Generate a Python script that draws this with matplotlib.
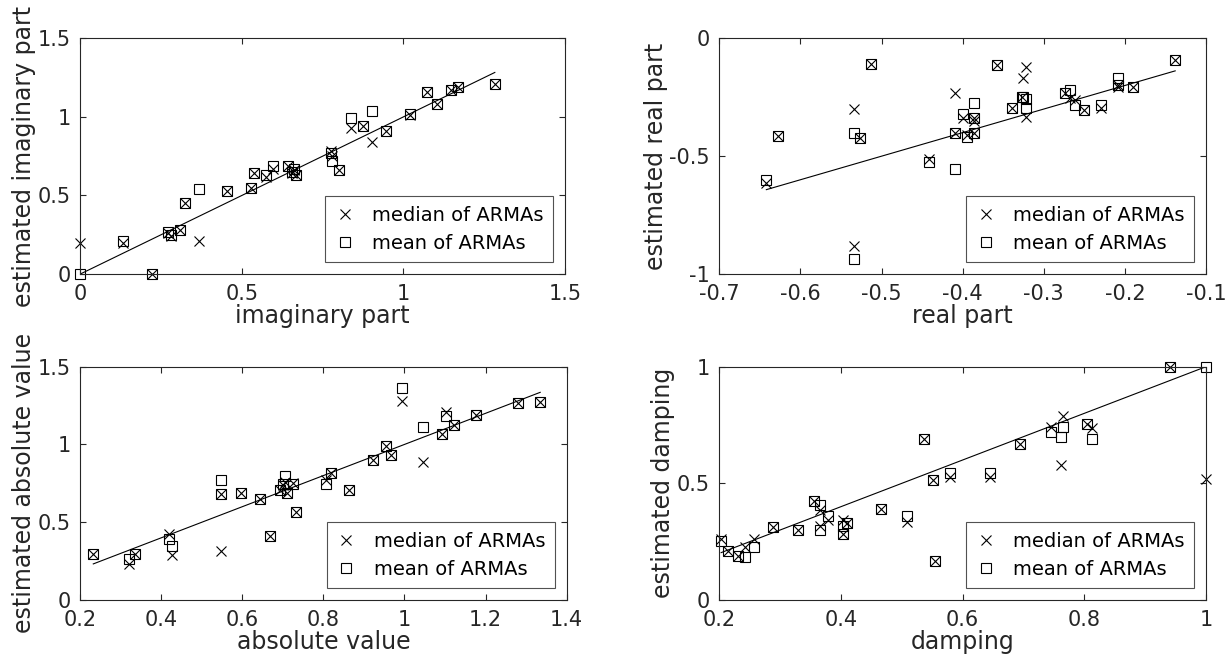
import matplotlib
matplotlib.use('Agg')
import matplotlib.pyplot as plt
from matplotlib.ticker import FuncFormatter

# True pole values and the estimates from the ARMA fits
imag_true = [0.0, 0.133, 0.223, 0.27, 0.28, 0.307, 0.325, 0.366, 0.455, 0.528, 0.537, 0.576, 0.595, 0.642,
             0.655, 0.66, 0.667, 0.775, 0.78, 0.80, 0.839, 0.875, 0.903, 0.947, 1.019, 1.073, 1.104, 1.148,
             1.17, 1.283]
imag_median = [0.195, 0.195, 0.0, 0.26, 0.24, 0.28, 0.45, 0.21, 0.53, 0.55, 0.64, 0.62, 0.67, 0.69,
               0.64, 0.66, 0.63, 0.78, 0.75, 0.66, 0.93, 0.94, 0.84, 0.91, 1.01, 1.16, 1.08, 1.17,
               1.19, 1.21]
imag_mean = [0.0, 0.212, 0.0, 0.27, 0.25, 0.28, 0.45, 0.54, 0.53, 0.55, 0.64, 0.63, 0.69, 0.69,
             0.65, 0.67, 0.63, 0.77, 0.72, 0.66, 0.99, 0.94, 1.04, 0.91, 1.02, 1.16, 1.08, 1.17,
             1.19, 1.21]

real_true = [-0.642, -0.628, -0.534, -0.527, -0.513, -0.534, -0.442, -0.41, -0.41, -0.40, -0.395, -0.386,
             -0.386, -0.386, -0.358, -0.339, -0.326, -0.322, -0.327, -0.322, -0.274, -0.268, -0.262, -0.25,
             -0.229, -0.209, -0.209, -0.19, -0.138]
real_median = [-0.612, -0.415, -0.30, -0.423, -0.11, -0.881, -0.514, -0.234, -0.40, -0.34, -0.41, -0.34,
               -0.40, -0.35, -0.113, -0.297, -0.17, -0.12, -0.248, -0.333, -0.234, -0.255, -0.262, -0.304,
               -0.297, -0.198, -0.205, -0.205, -0.092]
real_mean = [-0.601, -0.415, -0.403, -0.423, -0.11, -0.938, -0.524, -0.553, -0.40, -0.323, -0.417, -0.34,
             -0.40, -0.276, -0.113, -0.297, -0.248, -0.259, -0.25, -0.297, -0.234, -0.219, -0.283, -0.304,
             -0.284, -0.198, -0.17, -0.205, -0.092]

abs_true = [0.232, 0.32, 0.335, 0.42, 0.426, 0.547, 0.547, 0.596, 0.644, 0.667, 0.693, 0.705, 0.70, 0.71,
            0.726, 0.733, 0.806, 0.818, 0.862, 0.922, 0.955, 0.966, 0.994, 1.045, 1.092, 1.102, 1.123,
            1.176, 1.279, 1.335]
abs_median = [0.295, 0.231, 0.295, 0.423, 0.288, 0.684, 0.316, 0.686, 0.652, 0.412, 0.71, 0.76, 0.74, 0.69,
              0.75, 0.566, 0.77, 0.816, 0.705, 0.90, 0.987, 0.929, 1.278, 0.887, 1.064, 1.207, 1.122,
              1.19, 1.265, 1.276]
abs_mean = [0.295, 0.261, 0.295, 0.395, 0.346, 0.684, 0.769, 0.686, 0.652, 0.412, 0.71, 0.80, 0.744, 0.688,
            0.748, 0.566, 0.748, 0.816, 0.705, 0.90, 0.987, 0.929, 1.361, 1.111, 1.064, 1.18, 1.122,
            1.19, 1.265, 1.276]

damp_true = [0.203, 0.215, 0.231, 0.242, 0.257, 0.289, 0.33, 0.356, 0.365, 0.365, 0.379, 0.403, 0.404, 0.41,
             0.466, 0.508, 0.536, 0.552, 0.555, 0.58, 0.645, 0.694, 0.745, 0.761, 0.765, 0.804, 0.812,
             0.94, 1.0]
damp_median = [0.262, 0.209, 0.19, 0.229, 0.262, 0.312, 0.302, 0.424, 0.384, 0.319, 0.344, 0.281, 0.341, 0.331,
               0.391, 0.334, 0.688, 0.516, 0.169, 0.527, 0.527, 0.67, 0.742, 0.577, 0.788, 0.756, 0.739,
               1.0, 0.52]
damp_mean = [0.252, 0.209, 0.19, 0.183, 0.229, 0.312, 0.302, 0.424, 0.405, 0.30, 0.362, 0.281, 0.319, 0.331,
             0.391, 0.358, 0.688, 0.516, 0.169, 0.544, 0.544, 0.67, 0.72, 0.699, 0.742, 0.756, 0.688,
             1.0, 1.0]

text_color = '#262626'
plt.rcParams['font.family'] = 'DejaVu Sans'
plt.rcParams['axes.unicode_minus'] = False


def draw_panel(ax, true_vals, median_vals, mean_vals, xlim, ylim, xticks, yticks, xlabel, ylabel):
    ax.plot(true_vals, median_vals, 'x', color='black', markersize=6.5, markeredgewidth=0.8,
            label='median of ARMAs', clip_on=False)
    ax.plot(true_vals, mean_vals, 's', color='black', markerfacecolor='none', markersize=6.5,
            markeredgewidth=0.8, label='mean of ARMAs', clip_on=False)

    # reference line y = x over the range of true values
    lo, hi = min(true_vals), max(true_vals)
    ax.plot([lo, hi], [lo, hi], '-', color='black', linewidth=0.8)

    ax.set_xlim(xlim)
    ax.set_ylim(ylim)
    ax.set_xticks(xticks)
    ax.set_yticks(yticks)
    fmt = FuncFormatter(lambda v, pos: '%g' % round(v, 6))
    ax.xaxis.set_major_formatter(fmt)
    ax.yaxis.set_major_formatter(fmt)

    ax.tick_params(direction='in', length=4, width=0.8, top=True, right=True,
                   labelsize=15, colors=text_color)
    ax.tick_params(axis='x', pad=7)
    ax.tick_params(axis='y', pad=7)
    for spine in ax.spines.values():
        spine.set_color(text_color)
        spine.set_linewidth(0.8)

    ax.set_xlabel(xlabel, fontsize=17, color=text_color, labelpad=0)
    ax.set_ylabel(ylabel, fontsize=17, color=text_color, labelpad=1)

    leg = ax.legend(loc='lower right', fontsize=14, frameon=True, fancybox=False,
                    edgecolor=text_color, borderaxespad=0.6, handlelength=1.0,
                    handletextpad=0.9, borderpad=0.5, labelspacing=0.45)
    leg.get_frame().set_linewidth(0.8)
    for t in leg.get_texts():
        t.set_color('black')


fig = plt.figure(figsize=(12.3, 6.68), dpi=100)

ax1 = fig.add_axes([0.0653, 0.5898, 0.394, 0.3528])
ax2 = fig.add_axes([0.5848, 0.5898, 0.3957, 0.3528])
ax3 = fig.add_axes([0.0653, 0.1018, 0.3953, 0.3493])
ax4 = fig.add_axes([0.5848, 0.1018, 0.3957, 0.3493])

draw_panel(ax1, imag_true, imag_median, imag_mean, (0, 1.5), (0, 1.5),
           [0, 0.5, 1, 1.5], [0, 0.5, 1, 1.5], 'imaginary part', 'estimated imaginary part')
draw_panel(ax2, real_true, real_median, real_mean, (-0.7, -0.1), (-1, 0),
           [-0.7, -0.6, -0.5, -0.4, -0.3, -0.2, -0.1], [-1, -0.5, 0], 'real part', 'estimated real part')
draw_panel(ax3, abs_true, abs_median, abs_mean, (0.2, 1.4), (0, 1.5),
           [0.2, 0.4, 0.6, 0.8, 1, 1.2, 1.4], [0, 0.5, 1, 1.5], 'absolute value', 'estimated absolute value')
draw_panel(ax4, damp_true, damp_median, damp_mean, (0.2, 1), (0, 1),
           [0.2, 0.4, 0.6, 0.8, 1], [0, 0.5, 1], 'damping', 'estimated damping')

fig.savefig('out.png', dpi=100)
